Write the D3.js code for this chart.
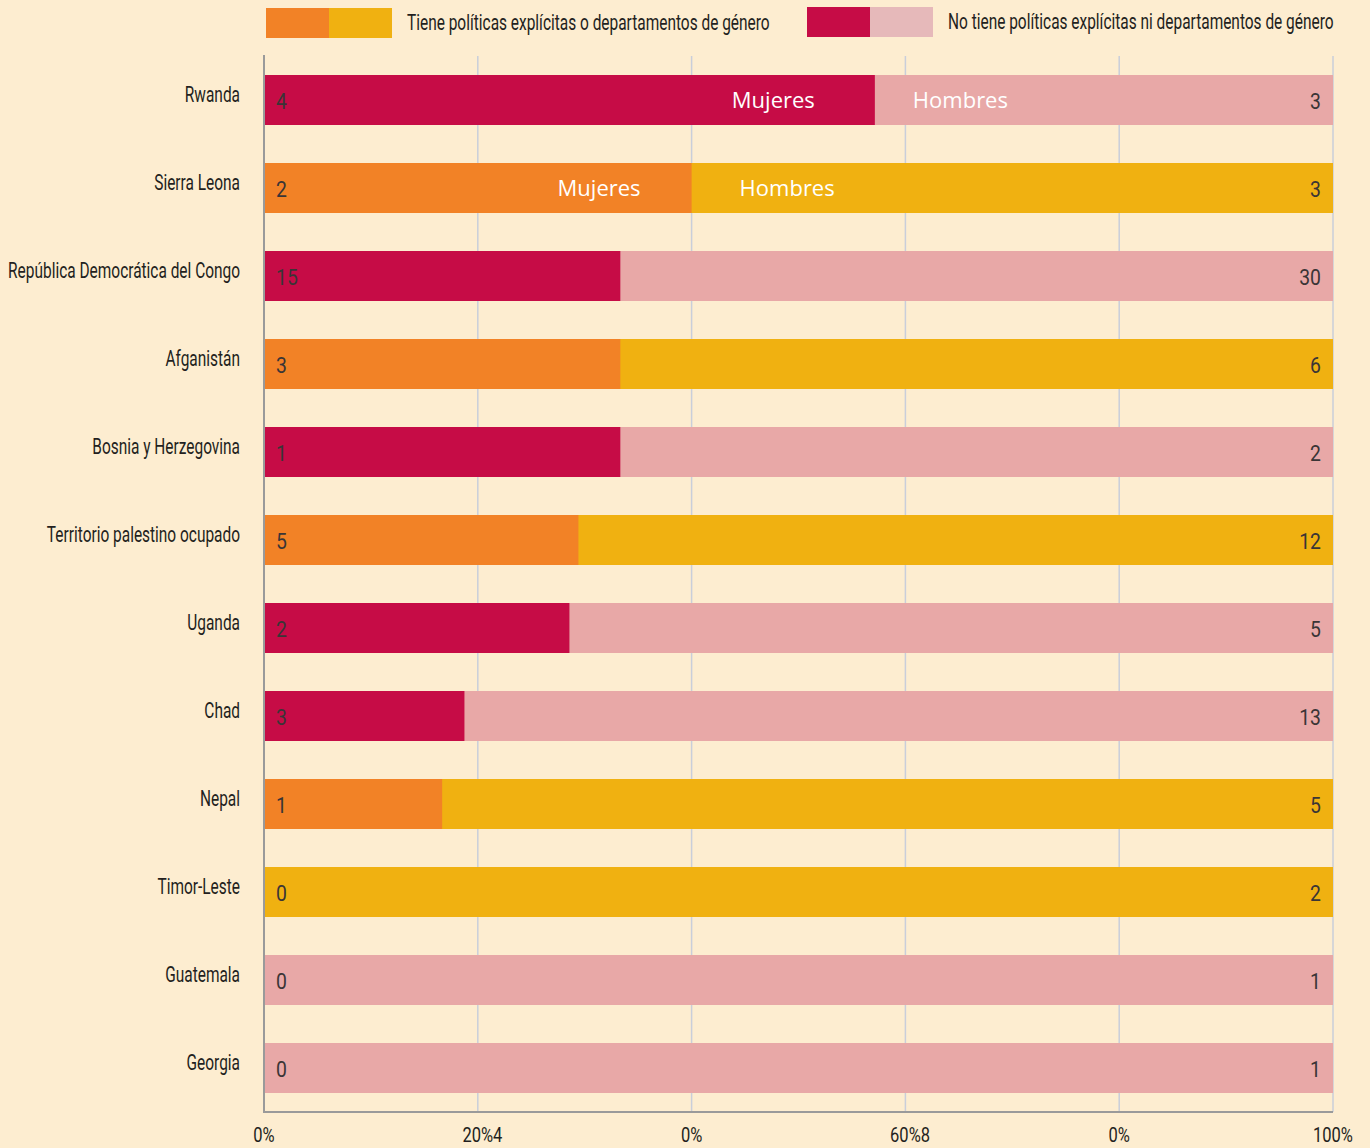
<!DOCTYPE html>
<html>
<head>
<meta charset="utf-8">
<script src="https://cdn.jsdelivr.net/npm/d3@7"></script>
<style>
  html, body { margin: 0; padding: 0; background: #FDEDD0; }
  svg { display: block; }
  .cond { font-family: "Roboto", "Liberation Sans", sans-serif; }
</style>
</head>
<body>
<div id="root"></div>
<script>
const WIDTH = 1370;
const HEIGHT = 1148;

const countries = ['Rwanda', 'Sierra Leona', 'República Democrática del Congo', 'Afganistán',
  'Bosnia y Herzegovina', 'Territorio palestino ocupado', 'Uganda', 'Chad', 'Nepal',
  'Timor-Leste', 'Guatemala', 'Georgia'];
const women = [4, 2, 15, 3, 1, 5, 2, 3, 1, 0, 0, 0];
const men = [3, 3, 30, 6, 2, 12, 5, 13, 5, 2, 1, 1];
const explicit = [false, true, false, true, false, true, false, false, true, true, false, false];
const tickValues = [0, 0.2, 0.4, 0.6, 0.8, 1];
const tickLabels = ['0%', '20%', '0%', '60%', '0%', '100%'];
const tickSuffix = ['', '4', '', '8', '', ''];
const legendLabels = ['Tiene políticas explícitas o departamentos de género',
  'No tiene políticas explícitas ni departamentos de género'];

const colors = {
  explicit: { w: '#F28226', m: '#F0B111' },
  none: { w: '#C60C46', m: '#E8A8A7' }
};

const data = countries.map((c, i) => ({
  country: c, w: women[i], m: men[i], explicit: explicit[i],
  share: women[i] / (women[i] + men[i])
}));

const x = d3.scaleLinear().domain([0, 1]).range([264, 1333]);
const y = d3.scaleBand().domain(countries).range([56, 1112])
  .paddingInner(38 / 88).paddingOuter(19 / 88);

const svg = d3.select('#root').append('svg')
  .attr('width', WIDTH).attr('height', HEIGHT);

// the original uses a condensed face; squeeze Roboto horizontally to match
const probe = svg.append('text').attr('class', 'cond').attr('font-size', 22)
  .text('República Democrática del Congo');
const K = 232 / probe.node().getComputedTextLength();
probe.remove();

// text helper: draws condensed text at (tx, ty)
function condText(sel, tx, ty, k = K) {
  const v = (f, d, i) => typeof f === 'function' ? f(d, i) : f;
  return sel.append('g')
      .attr('transform', (d, i) => `translate(${v(tx, d, i)}, ${v(ty, d, i)}) scale(${k}, 1)`)
    .append('text')
      .attr('class', 'cond')
      .attr('fill', '#231f20');
}

// grid
svg.append('g').selectAll('line')
  .data(tickValues.slice(1))
  .enter().append('line')
    .attr('x1', d => x(d)).attr('x2', d => x(d))
    .attr('y1', 56).attr('y2', 1112)
    .attr('stroke', '#C9CEDA').attr('stroke-width', 1.5);

// bars
const row = svg.append('g').selectAll('g')
  .data(data)
  .enter().append('g')
    .attr('transform', d => `translate(0, ${y(d.country)})`);

row.append('rect')
  .attr('x', x(0))
  .attr('width', d => x(1) - x(0))
  .attr('height', y.bandwidth())
  .attr('fill', d => d.explicit ? colors.explicit.m : colors.none.m);

row.append('rect')
  .attr('x', x(0))
  .attr('width', d => x(d.share) - x(0))
  .attr('height', y.bandwidth())
  .attr('fill', d => d.explicit ? colors.explicit.w : colors.none.w);

condText(row, x(0) + 12, y.bandwidth() / 2 + 9, K * 1.2)
  .attr('font-size', 23)
  .attr('fill', '#3a3536')
  .text(d => d.w);

condText(row, x(1) - 12, y.bandwidth() / 2 + 9, K * 1.2)
  .attr('font-size', 23)
  .attr('text-anchor', 'end')
  .attr('fill', '#3a3536')
  .text(d => d.m);

// Mujeres / Hombres labels on the first two bars
row.filter((d, i) => i < 2).each(function(d, i) {
  const g = d3.select(this);
  g.append('text')
    .attr('x', x(d.share) - (i === 0 ? 60 : 51))
    .attr('y', y.bandwidth() / 2 + 8)
    .attr('text-anchor', 'end')
    .attr('font-family', '"Open Sans", sans-serif')
    .attr('font-size', 22)
    .attr('fill', '#fff')
    .text('Mujeres');
  g.append('text')
    .attr('x', x(d.share) + (i === 0 ? 38 : 48))
    .attr('y', y.bandwidth() / 2 + 8)
    .attr('font-family', '"Open Sans", sans-serif')
    .attr('font-size', 22)
    .attr('fill', '#fff')
    .text('Hombres');
});

// country labels
const labels = svg.append('g').selectAll('g').data(countries).enter();
condText(labels, 240, d => y(d) + y.bandwidth() / 2 + 2)
  .attr('text-anchor', 'end')
  .attr('font-size', 22)
  .text(d => d);

// axes lines
svg.append('line')
  .attr('x1', x(0)).attr('x2', x(0)).attr('y1', 55).attr('y2', 1113)
  .attr('stroke', '#9a9a9a').attr('stroke-width', 2);
svg.append('line')
  .attr('x1', x(0) - 1).attr('x2', x(1)).attr('y1', 1112).attr('y2', 1112)
  .attr('stroke', '#9a9a9a').attr('stroke-width', 2);

// tick labels
const ticks = svg.append('g').selectAll('g')
  .data(tickValues)
  .enter().append('g')
    .attr('transform', d => `translate(${x(d)}, 1142) scale(${K * 1.12}, 1)`);
ticks.append('text')
  .attr('class', 'cond')
  .attr('text-anchor', 'middle')
  .attr('font-size', 21)
  .attr('fill', '#231f20')
  .text((d, i) => tickLabels[i]);
ticks.each(function(d, i) {
  if (!tickSuffix[i]) return;
  const g = d3.select(this);
  const w = g.select('text').node().getComputedTextLength();
  g.append('text')
    .attr('class', 'cond')
    .attr('x', w / 2)
    .attr('font-size', 21)
    .attr('fill', '#231f20')
    .text(tickSuffix[i]);
});

// legend
const legendX = [266, 807];
const legendColors = [colors.explicit, { w: '#C60C46', m: '#E6B9BA' }];
const legend = svg.append('g').selectAll('g')
  .data(legendLabels)
  .enter().append('g')
    .attr('transform', (d, i) => `translate(${legendX[i]}, ${i === 0 ? 8 : 7})`);
legend.append('rect')
  .attr('width', 63).attr('height', 30)
  .attr('fill', (d, i) => legendColors[i].w);
legend.append('rect')
  .attr('x', 63).attr('width', 63).attr('height', 30)
  .attr('fill', (d, i) => legendColors[i].m);
condText(legend, 141, 22)
  .attr('font-size', 22)
  .text(d => d);
</script>
</body>
</html>
